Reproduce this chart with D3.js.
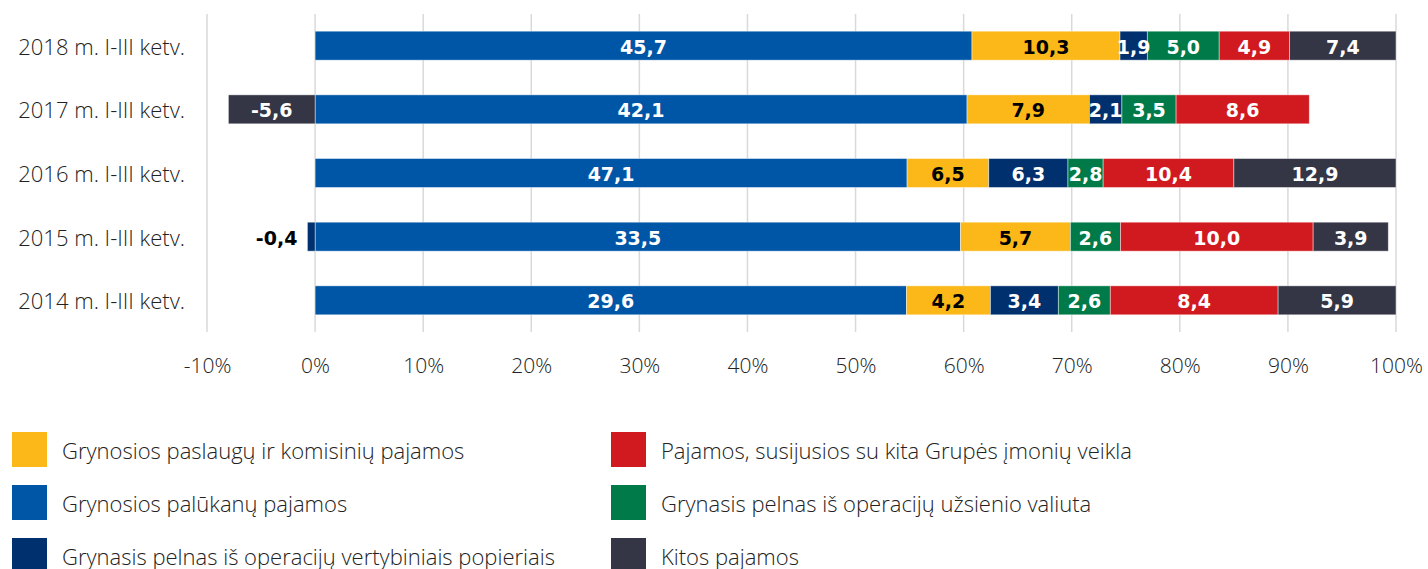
<!DOCTYPE html>
<html>
<head>
<meta charset="utf-8">
<script src="https://cdn.jsdelivr.net/npm/d3@7"></script>
<style>
  body { margin: 0; background: #fff; }
  svg text { font-family: "Open Sans", Lato, sans-serif; }
</style>
</head>
<body>
<div id="chart"></div>
<script>

// Rows, top to bottom
const periods = ["2018 m. I-III ketv.", "2017 m. I-III ketv.", "2016 m. I-III ketv.", "2015 m. I-III ketv.", "2014 m. I-III ketv."];

// Values per income type (same order as periods)
const palukanu    = [45.7, 42.1, 47.1, 33.5, 29.6];
const komisiniu   = [10.3, 7.9, 6.5, 5.7, 4.2];
const vertybiniai = [1.9, 2.1, 6.3, -0.4, 3.4];
const valiuta     = [5.0, 3.5, 2.8, 2.6, 2.6];
const grupes      = [4.9, 8.6, 10.4, 10.0, 8.4];
const kitos       = [7.4, -5.6, 12.9, 3.9, 5.9];

const xTicks = [-0.1, 0, 0.1, 0.2, 0.3, 0.4, 0.5, 0.6, 0.7, 0.8, 0.9, 1];

// series in stacking order
const series = [
  {key: "palukanu",    name: "Grynosios palūkanų pajamos",                          values: palukanu,    color: "#0056a6"},
  {key: "komisiniu",   name: "Grynosios paslaugų ir komisinių pajamos",             values: komisiniu,   color: "#fbb818"},
  {key: "vertybiniai", name: "Grynasis pelnas iš operacijų vertybiniais popieriais", values: vertybiniai, color: "#00316e"},
  {key: "valiuta",     name: "Grynasis pelnas iš operacijų užsienio valiuta",        values: valiuta,     color: "#007a48"},
  {key: "grupes",      name: "Pajamos, susijusios su kita Grupės įmonių veikla",     values: grupes,      color: "#d11a20"},
  {key: "kitos",       name: "Kitos pajamos",                                        values: kitos,       color: "#343646"}
];

// legend layout: two columns
const legendOrder = [["komisiniu", "palukanu", "vertybiniai"], ["grupes", "valiuta", "kitos"]];

const width = 1428, height = 569;
const x0 = 207, x1 = 1396, plotTop = 14, plotBottom = 332;

// rows of shares (value / sum of absolute values)
const rows = periods.map(function(p, i) {
  const row = {period: p};
  const total = d3.sum(series, s => Math.abs(s.values[i]));
  series.forEach(function(s) {
    row[s.key] = s.values[i] / total;
    row[s.key + "_raw"] = s.values[i];
  });
  return row;
});

const stack = d3.stack()
  .keys(series.map(s => s.key))
  .offset(d3.stackOffsetDiverging);
const stacked = stack(rows);

const xScale = d3.scaleLinear().domain([-0.1, 1]).range([x0, x1]);
const yScale = d3.scaleBand().domain(periods).range([plotTop, plotBottom]).paddingInner(0.545).paddingOuter(0.27);

const svg = d3.select("#chart")
  .append("svg")
    .attr("width", width)
    .attr("height", height);

// vertical grid lines
svg.append("g")
  .selectAll("line")
  .data(xTicks)
  .enter()
  .append("line")
    .attr("x1", d => xScale(d))
    .attr("x2", d => xScale(d))
    .attr("y1", plotTop)
    .attr("y2", plotBottom)
    .attr("stroke", "#d9d9d9")
    .attr("stroke-width", 1.5);

// x axis labels
const xAxis = svg.append("g")
  .attr("transform", `translate(0, ${plotBottom})`)
  .call(d3.axisBottom(xScale)
    .tickValues(xTicks)
    .tickSize(0)
    .tickPadding(26)
    .tickFormat(d => Math.round(d * 100) + "%"));
xAxis.select(".domain").remove();
xAxis.selectAll("text")
  .style("font-family", "'Open Sans', sans-serif")
  .style("font-weight", 300)
  .style("font-size", "21px")
  .attr("fill", "#222");

// category labels
svg.append("g")
  .selectAll("text")
  .data(periods)
  .enter()
  .append("text")
    .attr("x", 185)
    .attr("y", d => yScale(d) + yScale.bandwidth() / 2)
    .attr("text-anchor", "end")
    .attr("dominant-baseline", "central")
    .style("font-weight", 300)
    .style("font-size", "22px")
    .attr("fill", "#222")
    .text(d => d);

// bars
const colorOf = {};
series.forEach(s => colorOf[s.key] = s.color);

const layers = svg.append("g")
  .selectAll("g")
  .data(stacked)
  .enter()
  .append("g")
    .attr("fill", d => colorOf[d.key]);

layers.selectAll("rect")
  .data(d => d.map(p => ({key: d.key, p: p})))
  .enter()
  .append("rect")
    .filter(d => d.p[1] - d.p[0] !== 0)
    .attr("x", d => xScale(d.p[0]))
    .attr("width", d => xScale(d.p[1]) - xScale(d.p[0]))
    .attr("y", d => yScale(d.p.data.period))
    .attr("height", yScale.bandwidth())
    .attr("stroke", "#ffffff")
    .attr("stroke-opacity", 0.55)
    .attr("stroke-width", 0.8);

// value labels
const fmt = v => String(v.toFixed(1)).replace(".", ",");
const labelData = [];
stacked.forEach(function(layer) {
  layer.forEach(function(p) {
    const raw = p.data[layer.key + "_raw"];
    if (raw === 0) return;
    const w = xScale(p[1]) - xScale(p[0]);
    labelData.push({key: layer.key, p: p, raw: raw, inside: w > 15});
  });
});

svg.append("g")
  .selectAll("text")
  .data(labelData)
  .enter()
  .append("text")
    .attr("x", d => d.inside ? (xScale(d.p[0]) + xScale(d.p[1])) / 2 : xScale(d.p[0]) - 10)
    .attr("y", d => yScale(d.p.data.period) + yScale.bandwidth() / 2 + 1)
    .attr("text-anchor", d => d.inside ? "middle" : "end")
    .attr("dominant-baseline", "central")
    .style("font-family", "'DejaVu Sans', Verdana, sans-serif")
    .style("font-weight", "bold")
    .style("font-size", "19px")
    .attr("fill", d => (!d.inside || d.key === "komisiniu") ? "#000" : "#fff")
    .text(d => fmt(d.raw));

// legend
const seriesByKey = {};
series.forEach(s => seriesByKey[s.key] = s);
const legendItems = [];
legendOrder.forEach(function(col, c) {
  col.forEach(function(k, r) {
    legendItems.push({s: seriesByKey[k], col: c, row: r});
  });
});

const legend = svg.append("g")
  .selectAll("g")
  .data(legendItems)
  .enter()
  .append("g")
    .attr("transform", d => `translate(${12 + d.col * 599}, ${432 + d.row * 53})`);

legend.append("rect")
  .attr("width", 35)
  .attr("height", 35)
  .attr("fill", d => d.s.color);

legend.append("text")
  .attr("x", 50)
  .attr("y", 18)
  .attr("dominant-baseline", "central")
  .style("font-weight", 300)
  .style("font-size", "22px")
  .attr("fill", "#222")
  .text(d => d.s.name);

</script>
</body>
</html>
